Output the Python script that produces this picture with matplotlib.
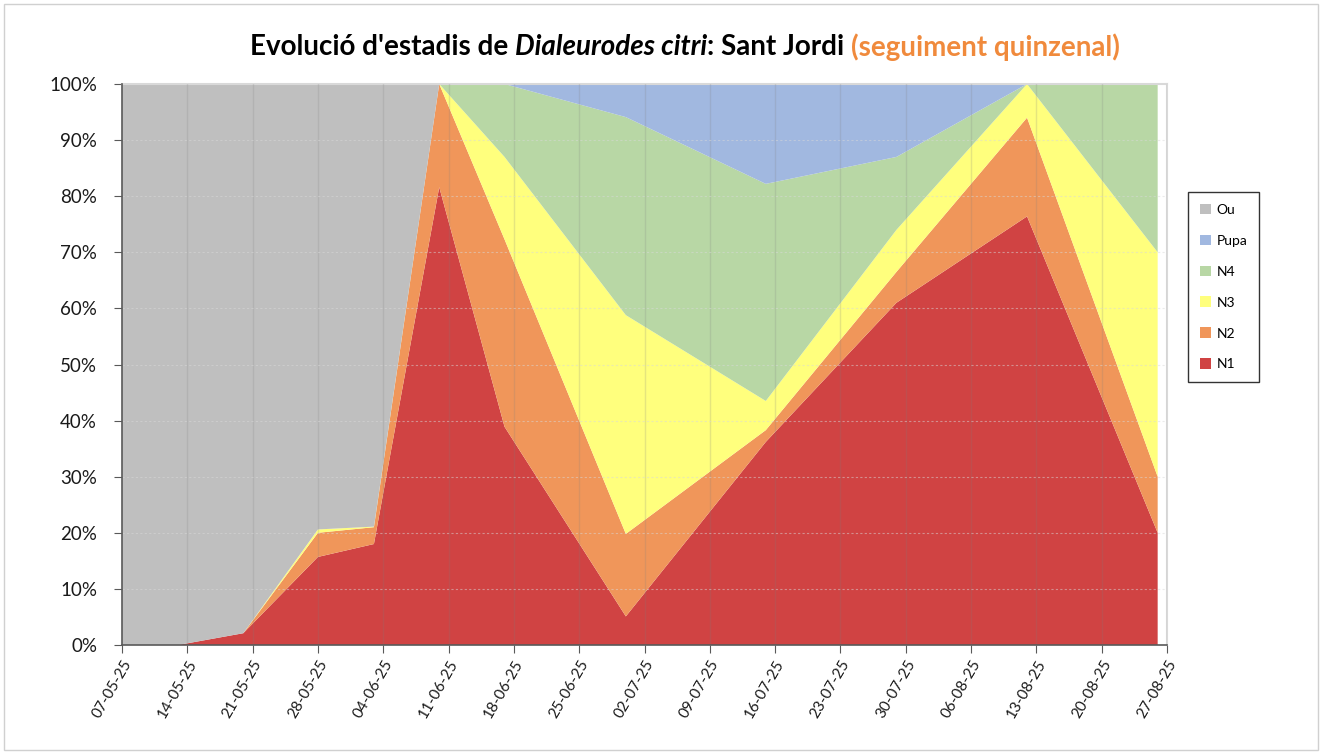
import numpy as np
import pandas as pd
import matplotlib
matplotlib.use("Agg")
import matplotlib.pyplot as plt
import matplotlib.dates as mdates
from matplotlib.patches import Rectangle, Patch

plt.rcParams['font.family'] = ['Lato', 'DejaVu Sans']

# sampling dates and % of each stage
dates = pd.to_datetime(['2025-05-07', '2025-05-13', '2025-05-20', '2025-05-28', '2025-06-03',
                        '2025-06-10', '2025-06-17', '2025-06-30', '2025-07-15', '2025-07-29',
                        '2025-08-12', '2025-08-26'])
n1 = [0, 0, 2.1, 15.7, 18.0, 81.6, 38.9, 5.1, 36.2, 61.0, 76.4, 20.0]
n2 = [0, 0, 0, 4.3, 3.0, 18.4, 33.4, 14.7, 2.1, 5.5, 17.6, 10.0]
n3 = [0, 0, 0, 0.6, 0.1, 0, 14.7, 39.0, 5.2, 7.5, 6.0, 40.0]
n4 = [0, 0, 0, 0, 0, 0, 13.0, 35.3, 38.7, 13.0, 0, 30.0]
pupa = [0, 0, 0, 0, 0, 0, 0, 5.9, 17.8, 13.0, 0, 0]
ou = [100, 100, 97.9, 79.4, 78.9, 0, 0, 0, 0, 0, 0, 0]

labels = ['N1', 'N2', 'N3', 'N4', 'Pupa', 'Ou']
colors = ['#D04343', '#F0965A', '#FFFF7D', '#B8D7A5', '#A1B8E0', '#BFBFBF']

W, H = 1322, 754
fig = plt.figure(figsize=(W / 100, H / 100), dpi=100)
ax = fig.add_axes([122 / W, 1 - 645 / H, (1167 - 122) / W, (645 - 84) / H])

ax.stackplot(dates, np.array([n1, n2, n3, n4, pupa, ou]) / 100, colors=colors,
             labels=labels, linewidth=0)

x0, x1 = pd.Timestamp('2025-05-07'), pd.Timestamp('2025-08-27')
ax.set_xlim(x0, x1)
ax.set_ylim(0, 1)
ticks = pd.date_range(x0, x1, freq='7D')
ax.set_xticks(ticks)
ax.xaxis.set_major_formatter(mdates.DateFormatter('%d-%m-%y'))
ax.set_yticks(np.arange(0, 1.01, 0.1))
ax.set_yticklabels([f'{int(v)}%' for v in np.arange(0, 101, 10)])

for t in ticks[1:]:
    ax.axvline(t, color='#7f7f7f', lw=1.0, alpha=0.2, zorder=3)
for v in np.arange(0.1, 1.0, 0.1):
    ax.axhline(v, color='#d9d9d9', lw=0.8, ls=(0, (2, 2)), alpha=0.5, zorder=3)

for s in ['top', 'right']:
    ax.spines[s].set_color('#d9d9d9')
    ax.spines[s].set_linewidth(1.5)
for s in ['left', 'bottom']:
    ax.spines[s].set_color('#595959')
    ax.spines[s].set_linewidth(1.2)
    ax.spines[s].set_zorder(4)

ax.tick_params(axis='y', labelsize=13.5, length=6, color='#595959', pad=12, labelcolor='#1a1a1a')
ax.tick_params(axis='x', labelsize=11, length=6, color='#595959', pad=3, labelcolor='#1a1a1a')
for lab in ax.get_xticklabels():
    lab.set_rotation(60)
    lab.set_ha('right')
    lab.set_rotation_mode('anchor')

handles = [Patch(facecolor=c, label=l) for c, l in zip(colors, labels)][::-1]
leg = fig.legend(handles=handles, loc='upper left', bbox_to_anchor=(1188 / W, 1 - 192 / H),
                 frameon=True, fancybox=False, fontsize=10, handlelength=0.8,
                 handleheight=0.8, handletextpad=0.4, labelspacing=1.35,
                 borderpad=0.85, borderaxespad=0)
leg.get_frame().set_edgecolor('black')
leg.get_frame().set_linewidth(1.0)

# chart border
fig.patches.append(Rectangle((4 / W, 4 / H), 1 - 8 / W, 1 - 8 / H, transform=fig.transFigure,
                             fill=False, edgecolor='#d0d0d0', lw=1.0))

# title in pieces
fs = 20
parts = [("Evolució d'estadis de ", 'normal', 'black'),
         ('Dialeurodes citri', 'italic', 'black'),
         (': Sant Jordi ', 'normal', 'black'),
         ('(seguiment quinzenal)', 'normal', '#F08A3C')]
r = fig.canvas.get_renderer()
texts = []
widths = []
for s, st, c in parts:
    t = fig.text(0, 1 - 47 / H, s, fontsize=fs, fontweight='bold', style=st, color=c,
                 va='center', ha='left')
    texts.append(t)
    widths.append(t.get_window_extent(r).width)
total = sum(widths)
xs = 685 - total / 2
for t, w in zip(texts, widths):
    t.set_x(xs / W)
    xs += w

fig.savefig('out.png', dpi=100)
